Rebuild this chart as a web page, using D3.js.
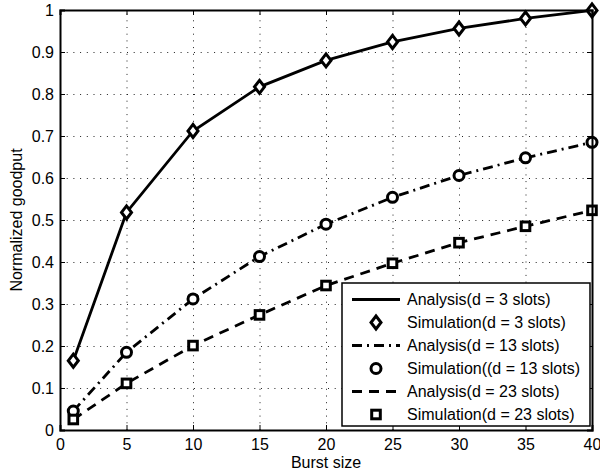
<!DOCTYPE html>
<html>
<head>
<meta charset="utf-8">
<script src="https://cdn.jsdelivr.net/npm/d3@7"></script>
<style>
  body { margin: 0; background: #fff; }
  text { font-family: "Liberation Sans", Arial, sans-serif; }
</style>
</head>
<body>
<div id="chart"></div>
<script>
// burst sizes on the x axis
const burstSizes = [1, 5, 10, 15, 20, 25, 30, 35, 40];

// d = 3 slots
const analysisD3 = [0.165, 0.518, 0.712, 0.817, 0.880, 0.924, 0.956, 0.980, 0.999];
const simulationD3 = [0.165, 0.518, 0.712, 0.817, 0.880, 0.924, 0.956, 0.980, 0.999];
// d = 13 slots
const analysisD13 = [0.045, 0.185, 0.312, 0.413, 0.490, 0.554, 0.606, 0.648, 0.685];
const simulationD13 = [0.045, 0.185, 0.312, 0.413, 0.490, 0.554, 0.606, 0.648, 0.685];
// d = 23 slots
const analysisD23 = [0.025, 0.111, 0.201, 0.274, 0.344, 0.397, 0.446, 0.485, 0.523];
const simulationD23 = [0.025, 0.111, 0.201, 0.274, 0.344, 0.397, 0.446, 0.485, 0.523];

const xTicks = [0, 5, 10, 15, 20, 25, 30, 35, 40];
const yTicks = [0, 0.1, 0.2, 0.3, 0.4, 0.5, 0.6, 0.7, 0.8, 0.9, 1];

const legendLabels = [
  'Analysis(d = 3 slots)',
  'Simulation(d = 3 slots)',
  'Analysis(d = 13 slots)',
  'Simulation((d = 13 slots)',
  'Analysis(d = 23 slots)',
  'Simulation(d = 23 slots)'
];

const W = 600, H = 476;
const margin = { top: 10, right: 8, bottom: 46, left: 60 };
const width = W - margin.left - margin.right;
const height = H - margin.top - margin.bottom;

const svg = d3.select('#chart').append('svg')
  .attr('width', W)
  .attr('height', H);

const g = svg.append('g')
  .attr('transform', `translate(${margin.left},${margin.top})`);

const x = d3.scaleLinear().domain([0, 40]).range([0, width]);
const y = d3.scaleLinear().domain([0, 1]).range([height, 0]);

// --- grid (dotted) ---
const gridX = g.append('g')
  .attr('transform', `translate(0,${height})`)
  .call(d3.axisBottom(x).tickValues(xTicks).tickSize(-height).tickFormat(''));
const gridY = g.append('g')
  .call(d3.axisLeft(y).tickValues(yTicks).tickSize(-width).tickFormat(''));
[gridX, gridY].forEach(gr => {
  gr.select('.domain').remove();
  gr.selectAll('line')
    .attr('stroke', '#222')
    .attr('stroke-width', 1)
    .attr('stroke-dasharray', '1,5.7');
});

// --- series ---
const series = [
  { ana: analysisD3, sim: simulationD3, dash: null, marker: 'diamond' },
  { ana: analysisD13, sim: simulationD13, dash: '10,5,2,5', marker: 'circle' },
  { ana: analysisD23, sim: simulationD23, dash: '10,7', marker: 'square' }
];

const line = d3.line()
  .x((d, i) => x(burstSizes[i]))
  .y(d => y(d));

function drawMarker(sel, type, cx, cy) {
  if (type === 'diamond') {
    sel.append('path')
      .attr('d', `M${cx},${cy - 6.5}L${cx + 5},${cy}L${cx},${cy + 6.5}L${cx - 5},${cy}Z`)
      .attr('fill', '#fff').attr('stroke', '#000').attr('stroke-width', 3);
  } else if (type === 'circle') {
    sel.append('circle')
      .attr('cx', cx).attr('cy', cy).attr('r', 5)
      .attr('fill', '#fff').attr('stroke', '#000').attr('stroke-width', 3);
  } else {
    sel.append('rect')
      .attr('x', cx - 4.3).attr('y', cy - 4.3).attr('width', 8.6).attr('height', 8.6)
      .attr('fill', '#fff').attr('stroke', '#000').attr('stroke-width', 3);
  }
}

series.forEach(s => {
  g.append('path')
    .datum(s.ana)
    .attr('d', line)
    .attr('fill', 'none')
    .attr('stroke', '#000')
    .attr('stroke-width', 2.8)
    .attr('stroke-dasharray', s.dash);
  const mg = g.append('g');
  s.sim.forEach((v, i) => drawMarker(mg, s.marker, x(burstSizes[i]), y(v)));
});

// --- axes (box with inward ticks) ---
const axB = g.append('g')
  .attr('transform', `translate(0,${height})`)
  .call(d3.axisBottom(x).tickValues(xTicks).tickSize(-5).tickPadding(9).tickFormat(d3.format('d')));
const axT = g.append('g')
  .call(d3.axisTop(x).tickValues(xTicks).tickSize(-5).tickFormat(''));
const axL = g.append('g')
  .call(d3.axisLeft(y).tickValues(yTicks).tickSize(-5).tickPadding(6).tickFormat(d => d === 0 || d === 1 ? d3.format('d')(d) : d3.format('.1f')(d)));
const axR = g.append('g')
  .attr('transform', `translate(${width},0)`)
  .call(d3.axisRight(y).tickValues(yTicks).tickSize(-5).tickFormat(''));
[axB, axT, axL, axR].forEach(a => {
  a.select('.domain').attr('stroke', '#000').attr('stroke-width', 2);
  a.selectAll('.tick line').attr('stroke', '#000').attr('stroke-width', 1);
  a.selectAll('text')
    .attr('fill', '#000')
    .style('font-size', '16px')
    .style('font-family', '"Liberation Sans", Arial, sans-serif');
});

// --- axis labels ---
svg.append('text')
  .attr('x', margin.left + width / 2)
  .attr('y', 468)
  .attr('text-anchor', 'middle')
  .style('font-size', '16px')
  .text('Burst size');

svg.append('text')
  .attr('transform', `translate(22,${margin.top + height / 2}) rotate(-90)`)
  .attr('text-anchor', 'middle')
  .style('font-size', '16px')
  .text('Normalized goodput');

// --- legend ---
const legend = svg.append('g').attr('transform', 'translate(342,283)');
legend.append('rect')
  .attr('x', 0).attr('y', 0)
  .attr('width', 248).attr('height', 143)
  .attr('fill', '#fff')
  .attr('stroke', '#000')
  .attr('stroke-width', 1.5);

const legendItems = [
  { kind: 'line', dash: null },
  { kind: 'marker', marker: 'diamond' },
  { kind: 'line', dash: '10,5,2,5' },
  { kind: 'marker', marker: 'circle' },
  { kind: 'line', dash: '10,7' },
  { kind: 'marker', marker: 'square' }
];

legendItems.forEach((it, i) => {
  const cy = 16.5 + i * 23;
  if (it.kind === 'line') {
    legend.append('line')
      .attr('x1', 10).attr('x2', 58)
      .attr('y1', cy).attr('y2', cy)
      .attr('stroke', '#000')
      .attr('stroke-width', 2.8)
      .attr('stroke-dasharray', it.dash);
  } else {
    drawMarker(legend, it.marker, 34, cy);
  }
  legend.append('text')
    .attr('x', 65)
    .attr('y', cy)
    .attr('dy', '0.35em')
    .style('font-size', '16px')
    .text(legendLabels[i]);
});
</script>
</body>
</html>
